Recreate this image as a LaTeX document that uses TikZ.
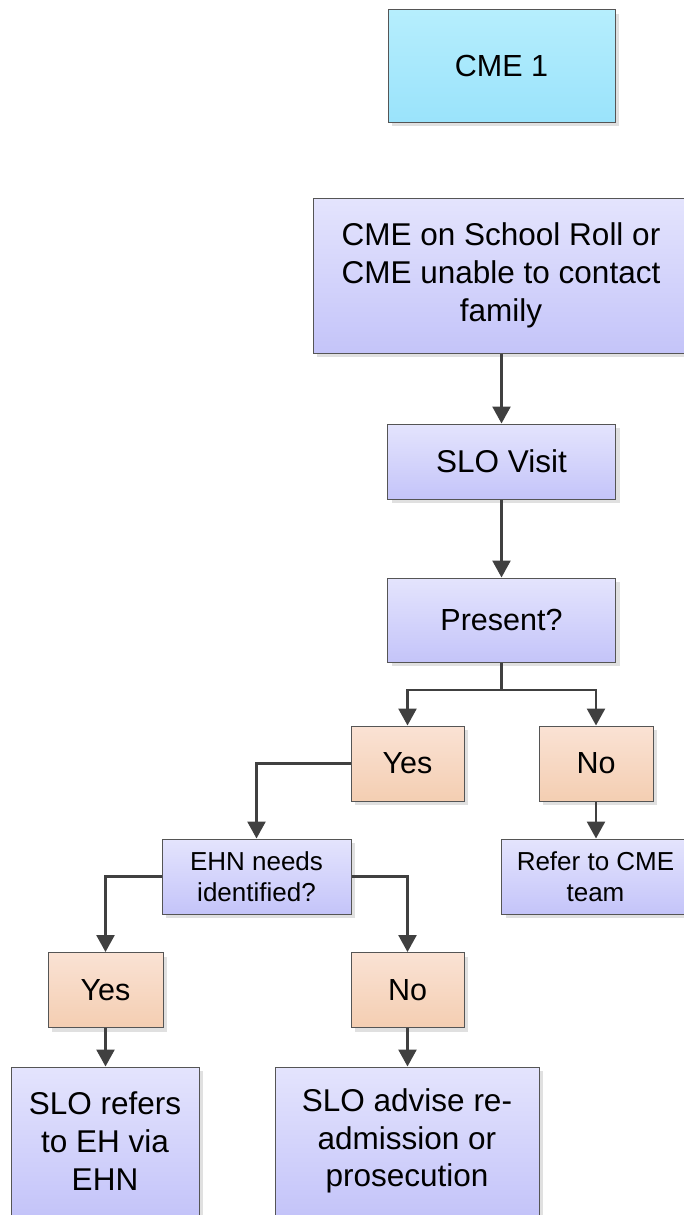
\documentclass[tikz,border=0pt]{standalone}
\usepackage{fontspec}
\setmainfont{Liberation Sans}
\usetikzlibrary{shadows,arrows.meta}
\definecolor{bluetop}{HTML}{E4E4FD}
\definecolor{bluebot}{HTML}{C4C4F9}
\definecolor{orangetop}{HTML}{FAE2D4}
\definecolor{orangebot}{HTML}{F4CEB2}
\definecolor{cyantop}{HTML}{B6EEFD}
\definecolor{cyanbot}{HTML}{9AE3FB}
\definecolor{boxline}{HTML}{555555}
\definecolor{shadowc}{HTML}{E0E0E0}
\definecolor{linec}{HTML}{404040}
\begin{document}
\begin{tikzpicture}[x=1pt,y=-1pt,
  box/.style={draw=boxline, line width=1pt, inner sep=0pt, align=center,
    drop shadow={shadow xshift=4pt,shadow yshift=-4pt,fill=shadowc,opacity=1}},
  bluebox/.style={box, top color=bluetop, bottom color=bluebot},
  orangebox/.style={box, top color=orangetop, bottom color=orangebot},
  cyanbox/.style={box, top color=cyantop, bottom color=cyanbot},
  big/.style={font=\fontsize{31.5}{37.8}\selectfont},
  mid/.style={font=\fontsize{30.5}{36}\selectfont},
  small/.style={font=\fontsize{26}{31.2}\selectfont},
  conn/.style={draw=linec, line width=2.6pt, -{Triangle[length=17pt,width=18pt]}},
  plain/.style={draw=linec, line width=2.6pt}
]
\useasboundingbox (0,0) rectangle (684,1215);

\node[cyanbox, mid, minimum width=227pt, minimum height=112pt] (cme1) at (501.5,66) {CME 1};
\node[bluebox, big, minimum width=376pt, minimum height=155pt] (roll) at (501,275.5) {CME on School Roll or\\CME unable to contact\\family};
\node[bluebox, big, minimum width=228pt, minimum height=75pt] (slo) at (501.5,461.5) {SLO Visit};
\node[bluebox, mid, minimum width=228pt, minimum height=84pt] (present) at (501.5,620) {Present?};
\node[orangebox, mid, minimum width=113pt, minimum height=75pt] (yes1) at (407.5,763.5) {Yes};
\node[orangebox, mid, minimum width=114pt, minimum height=75pt] (no1) at (596,763.5) {No};
\node[bluebox, small, minimum width=189pt, minimum height=75pt] (ehn) at (256.5,876.5) {EHN needs\\identified?};
\node[bluebox, small, minimum width=188pt, minimum height=75pt] (refer) at (595.5,876.5) {Refer to CME\\team};
\node[orangebox, mid, minimum width=115pt, minimum height=75pt] (yes2) at (105.5,990) {Yes};
\node[orangebox, mid, minimum width=113pt, minimum height=75pt] (no2) at (407.5,990) {No};
\node[bluebox, big, minimum width=188pt, minimum height=148pt] (refers) at (105,1141) {SLO refers\\to EH via\\EHN};
\node[bluebox, big, minimum width=264pt, minimum height=148pt] (advise) at (407,1141) {SLO advise re-\\admission or\\prosecution};

\coordinate (split) at (501.5,690);
\draw[conn] (slo.north |- roll.south) -- (slo.north);
\draw[conn] (slo.south) -- (present.north);
\draw[plain] (present.south) -- (split);
\draw[conn] (split) -| (yes1.north);
\draw[conn] (split) -| (no1.north);
\draw[conn] (yes1.west) -| (ehn.north);
\draw[conn] (ehn.west) -| (yes2.north);
\draw[conn] (ehn.east) -| (no2.north);
\draw[conn] (no1.south) -- (no1.south |- refer.north);
\draw[conn] (yes2.south) -- (yes2.south |- refers.north);
\draw[conn] (no2.south) -- (no2.south |- advise.north);
\end{tikzpicture}
\end{document}
